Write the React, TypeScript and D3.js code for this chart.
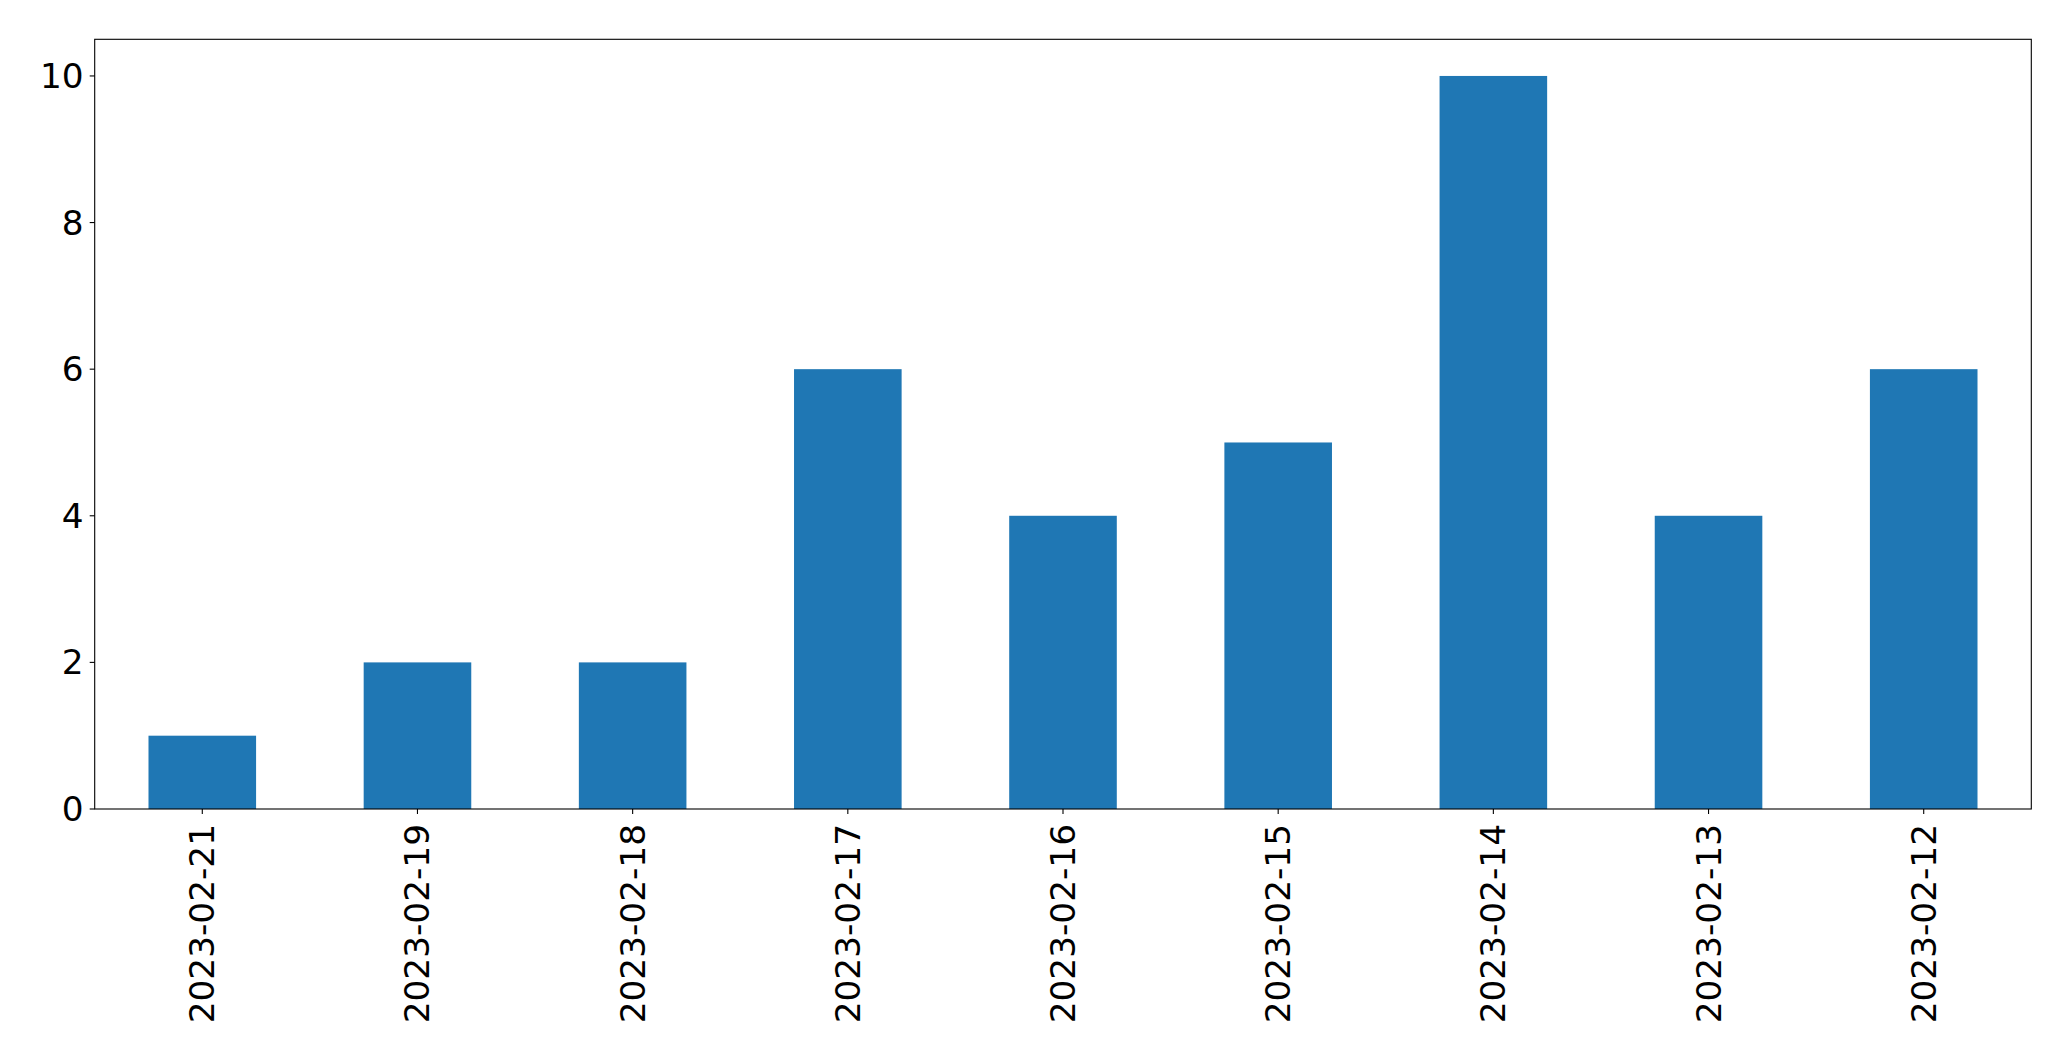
import React from "react";
import * as d3 from "d3";

const categories = ["2023-02-21", "2023-02-19", "2023-02-18", "2023-02-17", "2023-02-16", "2023-02-15", "2023-02-14", "2023-02-13", "2023-02-12"];
const values = [1, 2, 2, 6, 4, 5, 10, 4, 6];
const yTicks = [0, 2, 4, 6, 8, 10];

const W = 2071;
const H = 1061;
const M = { left: 94.7, right: 2031.3, top: 39.3, bottom: 809 };
const FONT = "DejaVu Sans, sans-serif";
const FS = 34.3;

export default function App() {
  const x = d3.scaleLinear().domain([-0.5, categories.length - 0.5]).range([M.left, M.right]);
  const y = d3.scaleLinear().domain([0, 10.5]).range([M.bottom, M.top]);
  const bw = x(0.25) - x(-0.25);
  return (
    <svg width={W} height={H} style={{ position: "absolute", left: 0, top: 0, background: "white" }}>
      <rect x={0} y={0} width={W} height={H} fill="white" />
      {values.map((v, i) => (
        <rect key={i} x={x(i) - bw / 2} y={y(v)} width={bw} height={y(0) - y(v)} fill="#1f77b4" />
      ))}
      <rect x={M.left} y={M.top} width={M.right - M.left} height={M.bottom - M.top} fill="none" stroke="black" strokeWidth={1.1} />
      {yTicks.map((t) => (
        <g key={t}>
          <line x1={M.left - 5} x2={M.left} y1={y(t)} y2={y(t)} stroke="black" strokeWidth={1.1} />
          <text x={M.left - 11} y={y(t)} textAnchor="end" dominantBaseline="central" fontFamily={FONT} fontSize={FS} fill="black">{t}</text>
        </g>
      ))}
      {categories.map((c, i) => (
        <g key={c}>
          <line x1={x(i)} x2={x(i)} y1={M.bottom} y2={M.bottom + 5} stroke="black" strokeWidth={1.1} />
          <text transform={`translate(${x(i)},${M.bottom + 15}) rotate(-90)`} textAnchor="end" dominantBaseline="central" fontFamily={FONT} fontSize={FS} fill="black">{c}</text>
        </g>
      ))}
    </svg>
  );
}
